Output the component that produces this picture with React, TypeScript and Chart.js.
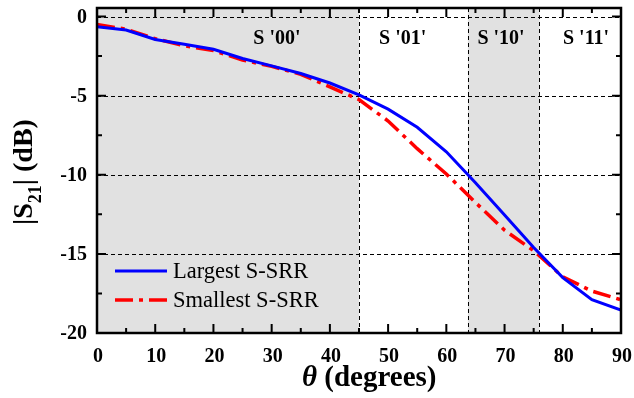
import React, { useEffect, useRef } from "react";
import { Chart, registerables } from "chart.js";

Chart.register(...registerables);

// Incidence angle in degrees
const angles = [0, 5, 10, 15, 20, 25, 30, 35, 40, 45, 50, 55, 60, 65, 70, 75, 80, 85, 90];
// |S21| in dB for the largest resonator
const largestSSRR = [-0.65, -0.85, -1.45, -1.75, -2.07, -2.65, -3.12, -3.6, -4.2, -4.95, -5.85, -7.0, -8.55, -10.5, -12.55, -14.6, -16.5, -17.9, -18.55];
// |S21| in dB for the smallest resonator
const smallestSSRR = [-0.5, -0.8, -1.4, -1.85, -2.15, -2.75, -3.15, -3.65, -4.45, -5.25, -6.6, -8.35, -9.95, -11.75, -13.5, -14.8, -16.45, -17.35, -17.9];

// Angular regions for the four states
const stateBounds = [0, 45, 63.7, 76, 90];
const stateLabels = ["S '00'", "S '01'", "S '10'", "S '11'"];
const stateLabelAngles = [30.9, 52.5, 69.4, 84];
const stateShaded = [true, false, true, false];

const xTicks = [0, 10, 20, 30, 40, 50, 60, 70, 80, 90];
const yTicks = [0, -5, -10, -15, -20];

const seriesNames = ["Largest S-SRR", "Smallest S-SRR"];

const SERIF = "'Liberation Serif', 'Times New Roman', serif";
const RED_DASH = [18, 6, 4, 6];

const decorPlugin = {
  id: "decor",
  beforeDatasetsDraw(chart: any) {
    const { ctx, chartArea, scales } = chart;
    const { left, right, top, bottom } = chartArea;
    const x = scales.x;
    const y = scales.y;
    ctx.save();
    // shaded state regions
    ctx.fillStyle = "#e1e1e1";
    for (let i = 0; i < stateShaded.length; i++) {
      if (!stateShaded[i]) continue;
      const x0 = x.getPixelForValue(stateBounds[i]);
      const x1 = x.getPixelForValue(stateBounds[i + 1]);
      ctx.fillRect(x0, top, x1 - x0, bottom - top);
    }
    // dashed grid
    ctx.strokeStyle = "#000";
    ctx.lineWidth = 1;
    ctx.setLineDash([4, 3]);
    for (const v of yTicks) {
      if (v === -20) continue;
      const py = Math.round(y.getPixelForValue(v)) + 0.5;
      ctx.beginPath();
      ctx.moveTo(left, py);
      ctx.lineTo(right, py);
      ctx.stroke();
    }
    for (let i = 1; i < stateBounds.length - 1; i++) {
      const px = Math.round(x.getPixelForValue(stateBounds[i])) + 0.5;
      ctx.beginPath();
      ctx.moveTo(px, top);
      ctx.lineTo(px, bottom);
      ctx.stroke();
    }
    ctx.restore();
  },
  afterDatasetsDraw(chart: any) {
    const { ctx, chartArea, scales } = chart;
    const { left, right, top, bottom } = chartArea;
    const x = scales.x;
    const y = scales.y;
    ctx.save();
    ctx.setLineDash([]);
    ctx.strokeStyle = "#000";

    // inward tick marks on all four sides
    ctx.lineWidth = 2;
    for (let v = 0; v <= 90; v += 5) {
      const len = v % 10 === 0 ? 9 : 5;
      const px = x.getPixelForValue(v);
      ctx.beginPath();
      ctx.moveTo(px, bottom);
      ctx.lineTo(px, bottom - len);
      ctx.moveTo(px, top);
      ctx.lineTo(px, top + len);
      ctx.stroke();
    }
    for (let v = -20; v <= 0; v += 2.5) {
      const len = v % 5 === 0 ? 9 : 5;
      const py = y.getPixelForValue(v);
      ctx.beginPath();
      ctx.moveTo(left, py);
      ctx.lineTo(left + len, py);
      ctx.moveTo(right, py);
      ctx.lineTo(right - len, py);
      ctx.stroke();
    }

    // frame
    ctx.lineWidth = 2.5;
    ctx.strokeRect(left, top, right - left, bottom - top);

    // tick labels
    ctx.fillStyle = "#000";
    ctx.font = `bold 20px ${SERIF}`;
    ctx.textAlign = "right";
    ctx.textBaseline = "middle";
    for (const v of yTicks) {
      ctx.fillText(String(v), left - 10, y.getPixelForValue(v) + 1);
    }
    ctx.textAlign = "center";
    ctx.textBaseline = "alphabetic";
    for (const v of xTicks) {
      ctx.fillText(String(v), x.getPixelForValue(v) + 1, bottom + 29);
    }

    // state labels
    for (let i = 0; i < stateLabels.length; i++) {
      ctx.fillText(stateLabels[i], x.getPixelForValue(stateLabelAngles[i]), top + 36);
    }

    // x axis title: italic theta followed by the unit
    ctx.textAlign = "left";
    ctx.font = `italic bold 29px ${SERIF}`;
    const thetaW = ctx.measureText("θ").width;
    ctx.fillText("θ", 302, 386);
    ctx.font = `bold 29px ${SERIF}`;
    ctx.fillText(" (degrees)", 302 + thetaW, 386);

    // y axis title with subscript
    ctx.save();
    ctx.translate(32, 172);
    ctx.rotate(-Math.PI / 2);
    const big = `bold 28px ${SERIF}`;
    const small = `bold 18px ${SERIF}`;
    ctx.font = big;
    const w1 = ctx.measureText("|S").width;
    const w3 = ctx.measureText("| (dB)").width;
    ctx.font = small;
    const w2 = ctx.measureText("21").width;
    let cx = -(w1 + w2 + w3) / 2;
    ctx.font = big;
    ctx.fillText("|S", cx, 0);
    cx += w1;
    ctx.font = small;
    ctx.fillText("21", cx, 9);
    cx += w2;
    ctx.font = big;
    ctx.fillText("| (dB)", cx, 0);
    ctx.restore();

    // legend
    const ds = chart.data.datasets;
    const rows = [271, 300];
    ctx.font = `22.5px ${SERIF}`;
    ctx.textBaseline = "alphabetic";
    for (let i = 0; i < ds.length; i++) {
      ctx.strokeStyle = ds[i].borderColor;
      ctx.lineWidth = ds[i].borderWidth;
      ctx.setLineDash(ds[i].borderDash || []);
      ctx.beginPath();
      ctx.moveTo(115, rows[i]);
      ctx.lineTo(167, rows[i]);
      ctx.stroke();
      ctx.fillStyle = "#000";
      ctx.fillText(seriesNames[i], 173, rows[i] + 7);
    }
    ctx.restore();
  },
};

export default function App() {
  const canvasRef = useRef<HTMLCanvasElement>(null);

  useEffect(() => {
    const canvas = canvasRef.current;
    if (!canvas) return;
    const chart = new Chart(canvas, {
      type: "line",
      data: {
        datasets: [
          {
            label: seriesNames[0],
            data: angles.map((a, i) => ({ x: a, y: largestSSRR[i] })),
            borderColor: "#0000ff",
            borderWidth: 3,
            pointRadius: 0,
            tension: 0,
          },
          {
            label: seriesNames[1],
            data: angles.map((a, i) => ({ x: a, y: smallestSSRR[i] })),
            borderColor: "#ff0000",
            borderWidth: 3.5,
            borderDash: RED_DASH,
            pointRadius: 0,
            tension: 0,
          },
        ],
      },
      options: {
        animation: false,
        responsive: false,
        devicePixelRatio: 1,
        layout: { padding: { left: 97, right: 13, top: 8, bottom: 65 } },
        plugins: { legend: { display: false }, tooltip: { enabled: false } },
        scales: {
          x: { type: "linear", min: 0, max: 90, display: false },
          y: { type: "linear", min: -20, max: 0.54, display: false },
        },
      },
      plugins: [decorPlugin],
    });
    return () => chart.destroy();
  }, []);

  return (
    <div style={{ position: "fixed", left: 0, top: 0, width: 634, height: 398, background: "#fff" }}>
      <canvas ref={canvasRef} width={634} height={398} />
    </div>
  );
}
